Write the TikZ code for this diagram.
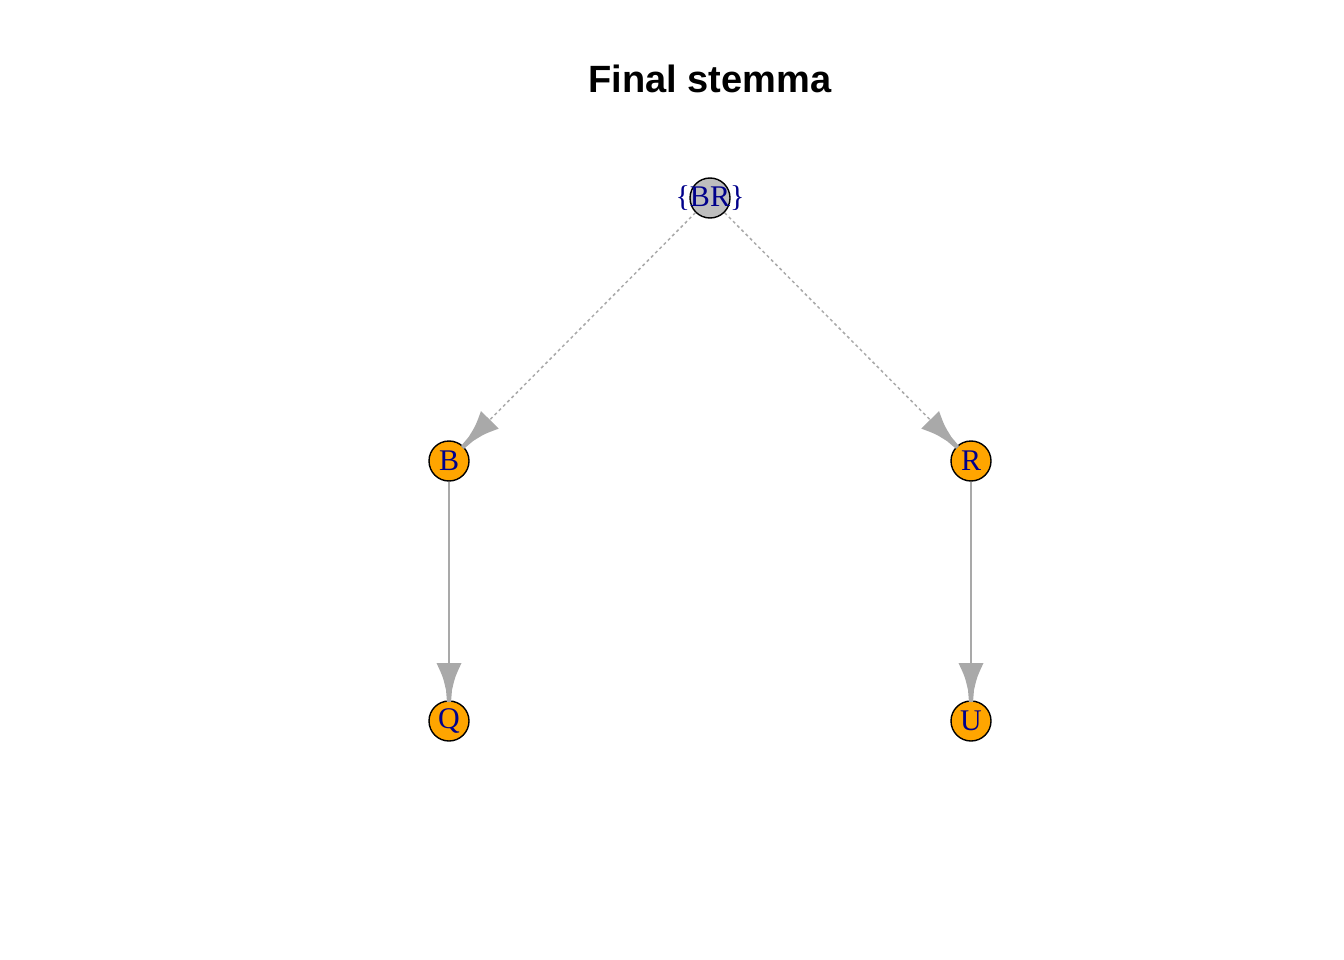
\documentclass[tikz,border=0pt]{standalone}
\usepackage{fontspec}
\setmainfont{Liberation Serif}
\newfontfamily\titlefont{Liberation Sans}
\usetikzlibrary{calc}
\definecolor{edgecol}{HTML}{A9A9A9}
\definecolor{labcol}{HTML}{00008B}
\definecolor{orangefill}{HTML}{FFA500}
\definecolor{grayfill}{HTML}{BEBEBE}
\tikzset{
  vert/.style={circle, draw=black, line width=1.4pt, minimum size=40pt, inner sep=0pt},
  witness/.style={vert, fill=orangefill},
  hyp/.style={vert, fill=grayfill},
  vlab/.style={text=labcol, font=\fontsize{30}{30}\selectfont, inner sep=0pt},
  dashedge/.style={draw=edgecol, line width=1.5pt, dash pattern=on 3pt off 3pt},
  solidedge/.style={draw=edgecol, line width=2pt},
}
\newcommand\igarrow[2]{%
  \coordinate (ab) at ($(#2)!58pt!(#1)$);
  \coordinate (ac) at ($(#2)!44pt!(#1)$);
  \coordinate (an) at ($(#2)!31pt!(#1)$);
  \coordinate (ae) at ($(#2)!19pt!(#1)$);
  \fill[edgecol] ($(ab)!12.5pt!90:(#2)$) .. controls ($(ac)!6pt!90:(#2)$) .. ($(an)!3pt!90:(#2)$)
     -- ($(ae)!2pt!90:(#2)$) -- ($(ae)!2pt!-90:(#2)$) -- ($(an)!3pt!-90:(#2)$)
     .. controls ($(ac)!6pt!-90:(#2)$) .. ($(ab)!12.5pt!-90:(#2)$) -- cycle;
}
\begin{document}
\begin{tikzpicture}[x=1pt,y=-1pt]
\useasboundingbox (0,0) rectangle (1344,960);
\node[font=\titlefont\bfseries\fontsize{38}{38}\selectfont, anchor=base] (title) at (710,93) {Final stemma};
\node[hyp] (BR) at (710,198) {};
\node[witness] (B) at (449,461) {};
\node[witness] (R) at (971,461) {};
\node[witness] (Q) at (449,721) {};
\node[witness] (U) at (971,721) {};
\draw[dashedge] (BR) -- (B);
\draw[dashedge] (BR) -- (R);
\draw[solidedge] (B) -- (Q);
\draw[solidedge] (R) -- (U);
\igarrow{BR}{B}
\igarrow{BR}{R}
\igarrow{B}{Q}
\igarrow{R}{U}
\node[vlab] (BRlab) at (BR.center) {\{BR\}};
\node[vlab] (Blab) at (B.center) {B};
\node[vlab] (Rlab) at (R.center) {R};
\node[vlab] (Qlab) at (Q.center) {Q};
\node[vlab] (Ulab) at (U.center) {U};
\end{tikzpicture}
\end{document}
